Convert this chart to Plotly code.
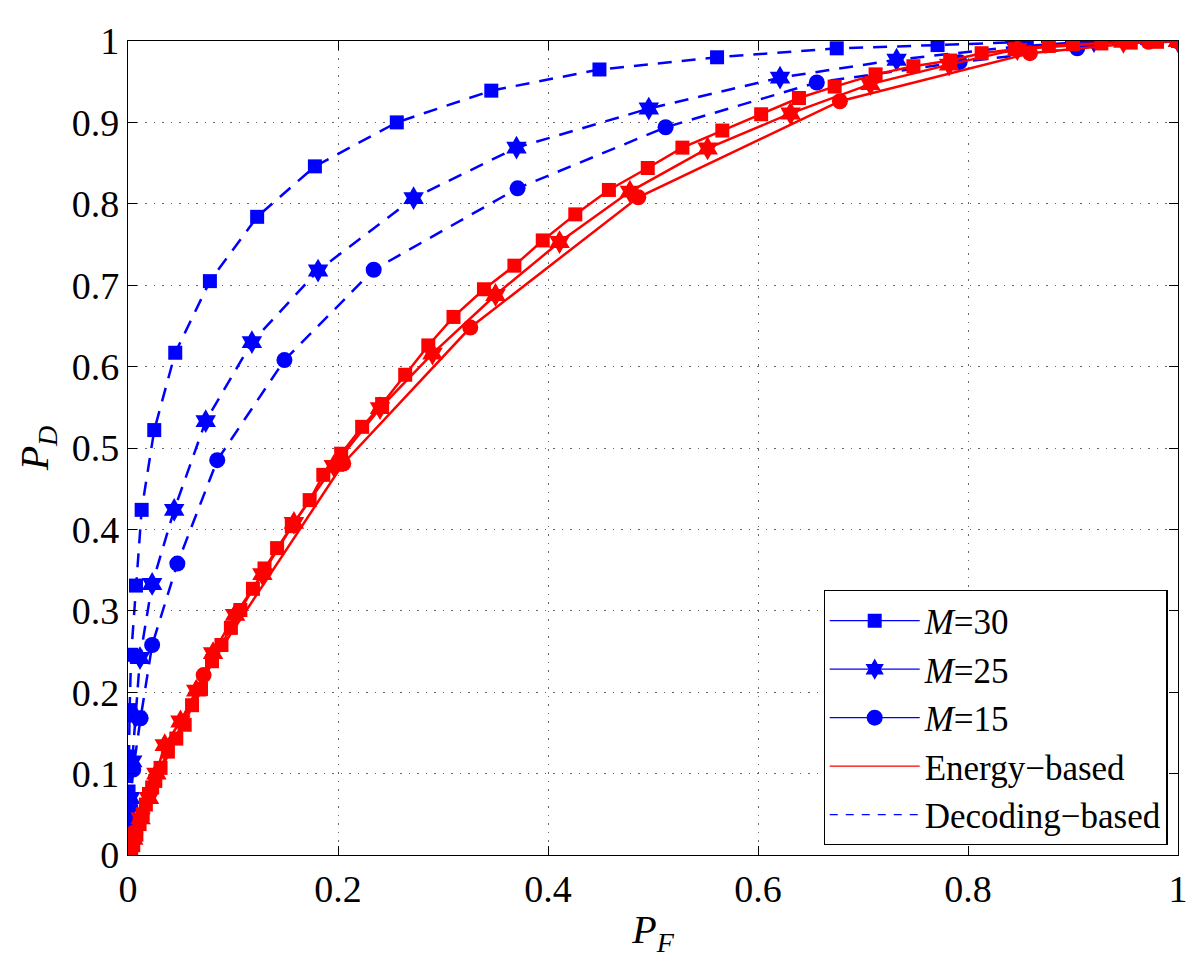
import plotly.graph_objects as go

# ---------------- data ----------------
# Decoding-based (blue, dashed)
dec_m30_pf = [0.0, 0.0, 0.0, 0.0005, 0.001, 0.0015, 0.003, 0.0076, 0.013, 0.025, 0.045, 0.078, 0.123,
              0.178, 0.256, 0.346, 0.449, 0.561, 0.675, 0.771, 0.856, 0.916, 1.0]
dec_m30_pd = [0.0, 0.02, 0.05, 0.078, 0.121, 0.178, 0.246, 0.331, 0.424, 0.522, 0.617, 0.705, 0.784,
              0.846, 0.900, 0.939, 0.965, 0.980, 0.991, 0.995, 0.999, 1.0, 1.0]

dec_m25_pf = [0.0, 0.001, 0.002, 0.004, 0.007, 0.0114, 0.023, 0.044, 0.074, 0.118, 0.181, 0.272, 0.370,
              0.496, 0.621, 0.732, 0.845, 0.92, 1.0]
dec_m25_pd = [0.0, 0.04, 0.07, 0.115, 0.17, 0.242, 0.333, 0.424, 0.533, 0.630, 0.718, 0.807, 0.869,
              0.917, 0.955, 0.977, 0.993, 1.0, 1.0]

dec_m15_pf = [0.0, 0.002, 0.005, 0.012, 0.023, 0.047, 0.085, 0.149, 0.234, 0.371, 0.512, 0.656, 0.792,
              0.904, 1.0]
dec_m15_pd = [0.0, 0.06, 0.105, 0.168, 0.258, 0.358, 0.485, 0.608, 0.719, 0.819, 0.894, 0.949, 0.974,
              0.991, 1.0]

# Energy-based (red, solid)
en_m30_pf = [0.003, 0.005, 0.008, 0.011, 0.014, 0.017, 0.020, 0.023, 0.026, 0.031, 0.038, 0.046, 0.054,
             0.061, 0.0695, 0.080, 0.089, 0.098, 0.107, 0.119, 0.130, 0.142, 0.156, 0.173, 0.186, 0.203,
             0.223, 0.242, 0.264, 0.286, 0.310, 0.339, 0.368, 0.395, 0.426, 0.458, 0.495, 0.528, 0.566,
             0.603, 0.639, 0.673, 0.712, 0.748, 0.783, 0.813, 0.845, 0.877, 0.900, 0.927, 0.955, 0.980, 1.0]
en_m30_pd = [0.0, 0.012, 0.025, 0.038, 0.050, 0.062, 0.075, 0.083, 0.091, 0.107, 0.127, 0.143, 0.160,
             0.184, 0.204, 0.238, 0.258, 0.279, 0.301, 0.327, 0.352, 0.377, 0.404, 0.436, 0.467, 0.493,
             0.526, 0.554, 0.590, 0.626, 0.661, 0.695, 0.724, 0.755, 0.787, 0.817, 0.844, 0.869, 0.890,
             0.910, 0.930, 0.944, 0.959, 0.969, 0.976, 0.985, 0.990, 0.994, 0.996, 0.997, 0.998, 0.999, 1.0]

en_m25_pf = [0.0, 0.005, 0.012, 0.020, 0.027, 0.035, 0.050, 0.065, 0.081, 0.102, 0.128, 0.158, 0.196,
             0.240, 0.290, 0.350, 0.411, 0.478, 0.552, 0.631, 0.707, 0.782, 0.847, 0.948, 1.0]
en_m25_pd = [0.0, 0.02, 0.045, 0.07, 0.10, 0.135, 0.164, 0.202, 0.248, 0.295, 0.345, 0.408, 0.478,
             0.549, 0.616, 0.688, 0.753, 0.815, 0.868, 0.911, 0.947, 0.971, 0.990, 0.999, 1.0]

en_m15_pf = [0.0, 0.005, 0.072, 0.205, 0.326, 0.486, 0.678, 0.859, 0.972, 1.0]
en_m15_pd = [0.0, 0.027, 0.221, 0.481, 0.648, 0.808, 0.926, 0.985, 0.999, 1.0]

legend_labels = ["<i>M</i>=30", "<i>M</i>=25", "<i>M</i>=15", "Energy\u2212based", "Decoding\u2212based"]
tick_vals_x = [0, 0.2, 0.4, 0.6, 0.8, 1]
tick_text_x = ["0", "0.2", "0.4", "0.6", "0.8", "1"]
tick_vals_y = [0, 0.1, 0.2, 0.3, 0.4, 0.5, 0.6, 0.7, 0.8, 0.9, 1]
tick_text_y = ["0", "0.1", "0.2", "0.3", "0.4", "0.5", "0.6", "0.7", "0.8", "0.9", "1"]

BLUE = "#0000ff"
RED = "#ff0000"
FONT = "Liberation Serif, Times New Roman, Times, serif"

fig = go.Figure()

sym = {"sq": "square", "hx": "hexagram", "ci": "circle"}
msize = {"sq": 14, "hx": 18, "ci": 16}

def add(xs, ys, color, dash, key):
    fig.add_trace(go.Scatter(
        x=xs, y=ys, mode="lines+markers", showlegend=False, hoverinfo="skip",
        line=dict(color=color, width=2.5, dash=dash),
        marker=dict(symbol=sym[key], size=msize[key], color=color, line=dict(width=0)),
    ))

add(dec_m30_pf, dec_m30_pd, BLUE, "14px,10px", "sq")
add(dec_m25_pf, dec_m25_pd, BLUE, "14px,10px", "hx")
add(dec_m15_pf, dec_m15_pd, BLUE, "14px,10px", "ci")
add(en_m30_pf, en_m30_pd, RED, "solid", "sq")
add(en_m25_pf, en_m25_pd, RED, "solid", "hx")
add(en_m15_pf, en_m15_pd, RED, "solid", "ci")

# legend entries
for lab, key in zip(legend_labels[:3], ["sq", "hx", "ci"]):
    fig.add_trace(go.Scatter(x=[None], y=[None], mode="lines+markers", name=lab,
                             line=dict(color=BLUE, width=1.2),
                             marker=dict(symbol=sym[key], size=msize[key], color=BLUE)))
fig.add_trace(go.Scatter(x=[None], y=[None], mode="lines", name=legend_labels[3],
                         line=dict(color=RED, width=1.2)))
fig.add_trace(go.Scatter(x=[None], y=[None], mode="lines", name=legend_labels[4],
                         line=dict(color=BLUE, width=1.2, dash="8px,8px")))

axis_common = dict(
    showline=True, linecolor="black", linewidth=1.2, mirror="ticks",
    ticks="inside", ticklen=9, tickcolor="black", tickwidth=1,
    showgrid=True, gridcolor="#666666", gridwidth=1, griddash="1.5px,7px",
    zeroline=False, tickfont=dict(family=FONT, size=38, color="black"),
)

fig.update_xaxes(range=[0, 1], tickvals=tick_vals_x, ticktext=tick_text_x,
                 title=dict(text="<i>P</i><sub><i>F</i></sub>", font=dict(family=FONT, size=40, color="black"),
                            standoff=6),
                 **axis_common)
fig.update_yaxes(range=[0, 1], tickvals=tick_vals_y, ticktext=tick_text_y,
                 title=dict(text="<i>P</i><sub><i>D</i></sub>", font=dict(family=FONT, size=40, color="black"),
                            standoff=10),
                 **axis_common)

fig.update_layout(
    width=1200, height=963,
    margin=dict(l=120, r=30, t=22, b=116),
    plot_bgcolor="white", paper_bgcolor="white",
    font=dict(family=FONT, color="black"),
    legend=dict(x=0.99, y=0.012, xanchor="right", yanchor="bottom",
                bgcolor="white", bordercolor="black", borderwidth=1.2,
                font=dict(family=FONT, size=35, color="black"),
                tracegroupgap=0, itemwidth=90),
)

fig.write_html("out.html")
